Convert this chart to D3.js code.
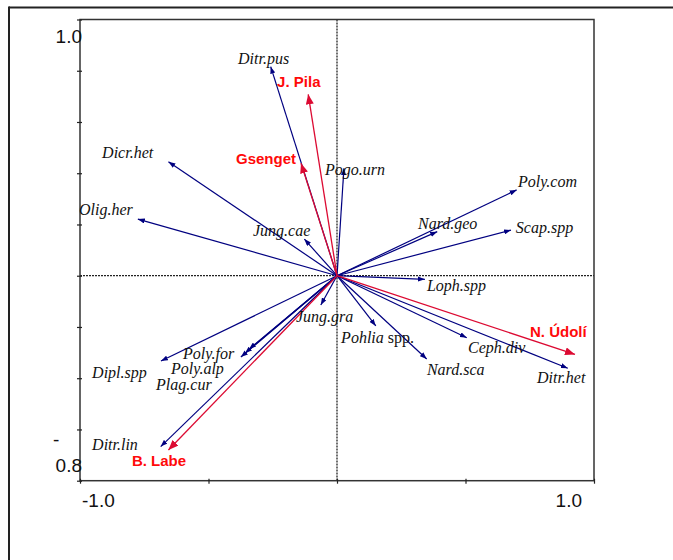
<!DOCTYPE html>
<html>
<head>
<meta charset="utf-8">
<script src="https://cdn.jsdelivr.net/npm/d3@7/dist/d3.min.js"></script>
<style>
html,body{margin:0;padding:0;background:#fff;}
svg{display:block;}
</style>
</head>
<body>
<svg id="chart" width="673" height="560"></svg>
<script>
// ---- data ----
const species = ["Ditr.pus","Dicr.het","Olig.her","Jung.cae","Pogo.urn","Poly.com","Nard.geo","Scap.spp",
  "Loph.spp","Jung.gra","Pohlia spp.","Ceph.div","Nard.sca","Ditr.het","Dipl.spp","Poly.for","Poly.alp","Plag.cur","Ditr.lin"];
const speciesX = [-0.258,-0.656,-0.775,-0.127,0.027,0.699,0.390,0.677,
  0.342,-0.063,0.151,0.505,0.349,0.898,-0.685,-0.374,-0.358,-0.342,-0.686];
const speciesY = [0.816,0.445,0.221,0.143,0.419,0.335,0.172,0.178,
  -0.014,-0.114,-0.196,-0.242,-0.325,-0.361,-0.333,-0.317,-0.302,-0.286,-0.667];
// label anchors (data units)
const speciesLabelX = [-0.385,-0.914,-1.004,-0.327,-0.047,0.704,0.315,0.696,
  0.350,-0.160,0.016,0.510,0.350,0.778,-0.953,-0.599,-0.646,-0.704,-0.953];
const speciesLabelY = [0.826,0.459,0.237,0.155,0.393,0.346,0.182,0.167,
  -0.060,-0.181,-0.263,-0.302,-0.388,-0.419,-0.400,-0.325,-0.384,-0.446,-0.681];

const sites = ["J. Pila","Gsenget","N. Údolí","B. Labe"];
const siteX = [-0.112,-0.140,0.926,-0.656];
const siteY = [0.708,0.439,-0.307,-0.680];
const siteLabelX = [-0.233,-0.393,0.751,-0.798];
const siteLabelY = [0.736,0.436,-0.239,-0.743];

const xTicks = [-1.0,-0.5,0,0.5,1.0];
const yTicks = [-0.8,-0.6,-0.4,-0.2,0,0.2,0.4,0.6,0.8,1.0];

// ---- drawing ----
const svg = d3.select("#chart");
const x = d3.scaleLinear().domain([-1,1]).range([80,594]);
const y = d3.scaleLinear().domain([-0.8,1.0]).range([480.7,19.5]);

const BLUE = "#000080", RED = "#dc0a32", RED_TXT = "#ff0a0a";

// outer frame (top & left)
svg.append("line").attr("x1",9).attr("y1",7.5).attr("x2",673).attr("y2",7.5)
  .attr("stroke","#222").attr("stroke-width",2);
svg.append("line").attr("x1",9).attr("y1",6.5).attr("x2",9).attr("y2",560)
  .attr("stroke","#222").attr("stroke-width",2);

const defs = svg.append("defs");
function marker(id, color, L, W){
  defs.append("marker").attr("id",id)
    .attr("markerUnits","userSpaceOnUse")
    .attr("viewBox",`0 ${-W} ${L} ${2*W}`)
    .attr("refX",L).attr("refY",0)
    .attr("markerWidth",L).attr("markerHeight",2*W)
    .attr("orient","auto")
    .append("path").attr("d",`M0,${-W}L${L},0L0,${W}Z`).attr("fill",color);
}
marker("ab",BLUE,7,2.6);
marker("ar",RED,10,4);

// zero lines
svg.append("line").attr("x1",x(0)).attr("x2",x(0)).attr("y1",y(1)).attr("y2",y(-0.8))
  .attr("stroke","#222").attr("stroke-width",1.3).attr("stroke-dasharray","2,1");
svg.append("line").attr("x1",x(-1)).attr("x2",x(1)).attr("y1",y(0)).attr("y2",y(0))
  .attr("stroke","#222").attr("stroke-width",1.3).attr("stroke-dasharray","2,1");

// plot frame
svg.append("rect").attr("x",x(-1)).attr("y",y(1)).attr("width",x(1)-x(-1)).attr("height",y(-0.8)-y(1))
  .attr("fill","none").attr("stroke","#333").attr("stroke-width",1.5);

// ticks
const axB = svg.append("g").attr("transform",`translate(0,${y(-0.8)})`)
  .call(d3.axisBottom(x).tickValues(xTicks).tickSize(3).tickFormat(""));
axB.select(".domain").remove();
axB.selectAll(".tick line").attr("y1",-2).attr("stroke","#222").attr("stroke-width",1.2);
const axL = svg.append("g").attr("transform",`translate(${x(-1)},0)`)
  .call(d3.axisLeft(y).tickValues(yTicks).tickSize(3).tickFormat(""));
axL.select(".domain").remove();
axL.selectAll(".tick line").attr("x1",2).attr("stroke","#222").attr("stroke-width",1.2);

// tick labels
const tickFont = "'Liberation Sans', Arial, sans-serif";
const tl = svg.append("g").attr("font-family",tickFont).attr("font-size",19).attr("fill","#111");
tl.append("text").attr("x",x(-1)+2).attr("y",y(1)+23.5).attr("text-anchor","end").text("1.0");
tl.append("text").attr("x",53).attr("y",y(-0.8)-35).text("-");
tl.append("text").attr("x",x(-1)+2).attr("y",y(-0.8)-9).attr("text-anchor","end").text("0.8");
tl.append("text").attr("x",x(-1)+2).attr("y",507).text("-1.0");
tl.append("text").attr("x",x(1)-12).attr("y",507).attr("text-anchor","end").text("1.0");

// species arrows
const sp = species.map((n,i)=>({n, vx:speciesX[i], vy:speciesY[i], lx:speciesLabelX[i], ly:speciesLabelY[i]}));
svg.append("g").selectAll("line").data(sp).join("line")
  .attr("x1",x(0)).attr("y1",y(0)).attr("x2",d=>x(d.vx)).attr("y2",d=>y(d.vy))
  .attr("stroke",BLUE).attr("stroke-width",1.2).attr("marker-end","url(#ab)");

// site arrows
const st = sites.map((n,i)=>({n, vx:siteX[i], vy:siteY[i], lx:siteLabelX[i], ly:siteLabelY[i]}));
svg.append("g").selectAll("line").data(st).join("line")
  .attr("x1",x(0)).attr("y1",y(0)).attr("x2",d=>x(d.vx)).attr("y2",d=>y(d.vy))
  .attr("stroke",RED).attr("stroke-width",1.3).attr("marker-end","url(#ar)");

// species labels
const sl = svg.append("g").attr("font-family","'Liberation Serif','Times New Roman',serif")
  .attr("font-size",16).attr("fill","#111");
sp.forEach(d=>{
  const t = sl.append("text").attr("x",x(d.lx)).attr("y",y(d.ly));
  if(d.n==="Pohlia spp."){
    t.append("tspan").attr("font-style","italic").text("Pohlia");
    t.append("tspan").text(" spp.");
  } else {
    t.attr("font-style","italic").text(d.n);
  }
});

// site labels
svg.append("g").attr("font-family","'Liberation Sans',Arial,sans-serif").attr("font-size",15)
  .attr("font-weight","bold").attr("fill",RED_TXT)
  .selectAll("text").data(st).join("text")
  .attr("x",d=>x(d.lx)).attr("y",d=>y(d.ly)).text(d=>d.n);
</script>
</body>
</html>
